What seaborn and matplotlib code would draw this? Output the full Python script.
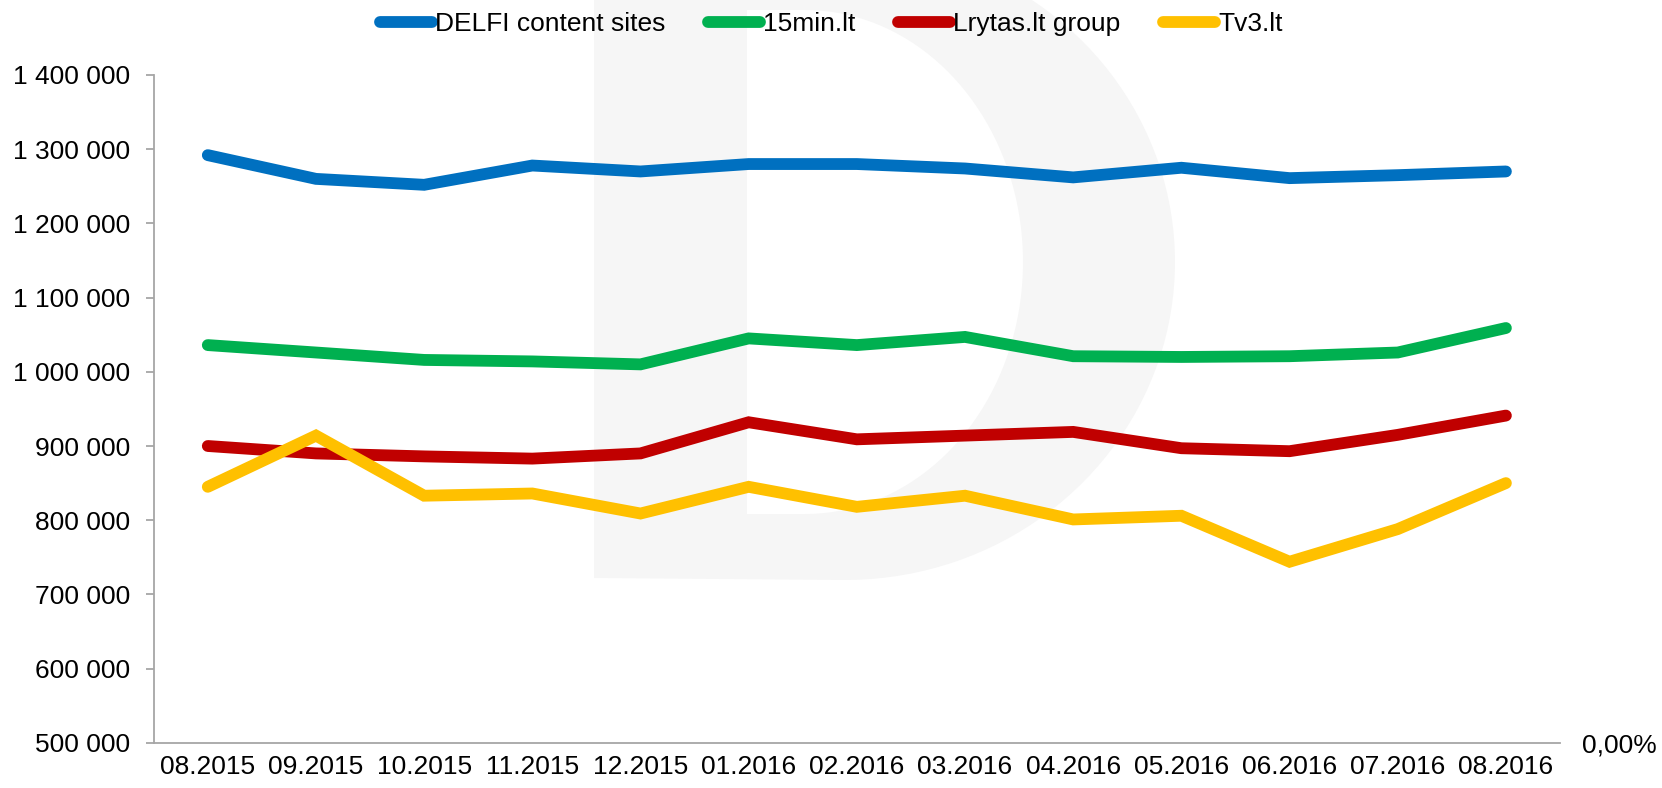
import numpy as np
import pandas as pd
import matplotlib
matplotlib.use("Agg")
import matplotlib.pyplot as plt
import seaborn as sns
from matplotlib.patches import Polygon
from matplotlib.ticker import FuncFormatter, FixedLocator

# data
months = ["08.2015", "09.2015", "10.2015", "11.2015", "12.2015", "01.2016", "02.2016",
          "03.2016", "04.2016", "05.2016", "06.2016", "07.2016", "08.2016"]
sites = ["DELFI content sites", "15min.lt", "Lrytas.lt group", "Tv3.lt"]
delfi = [1292000, 1260000, 1252000, 1278000, 1270000, 1280000, 1280000,
         1274000, 1262000, 1275000, 1261000, 1265000, 1270000]
min15 = [1036000, 1026000, 1016000, 1014000, 1010000, 1045000, 1036000,
         1047000, 1021000, 1020000, 1021000, 1026000, 1059000]
lrytas = [900000, 890000, 886000, 883000, 890000, 932000, 909000,
          914000, 919000, 897000, 893000, 915000, 941000]
tv3 = [845000, 914000, 833000, 836000, 809000, 845000, 818000,
       833000, 801000, 806000, 744000, 788000, 850000]
colors = ["#0070C0", "#00B050", "#C00000", "#FFC000"]

df = pd.DataFrame({
    "month": months * 4,
    "site": np.repeat(sites, len(months)),
    "value": delfi + min15 + lrytas + tv3,
})

sns.set_theme(style="white")
plt.rcParams['font.family'] = ['Liberation Sans', 'DejaVu Sans']
plt.rcParams['text.color'] = 'black'

W, H = 1662, 788
fig = plt.figure(figsize=(W / 100, H / 100), dpi=100)

# faint "D" watermark behind the plot
bg = fig.add_axes([0, 0, 1, 1], zorder=0)
bg.set_xlim(0, W)
bg.set_ylim(H, 0)
bg.axis("off")
t = np.linspace(-np.pi / 2, np.pi / 2, 80)
cy = 262
outer = [(594, 578), (594, -60)] + [(845 + 330 * np.cos(a), cy + 318 * np.sin(a)) for a in t]
inner = [(747, 514), (747, 10)] + [(805 + 218 * np.cos(a), cy + 252 * np.sin(a)) for a in t]
bg.add_patch(Polygon(outer, closed=True, facecolor="#F6F6F6", edgecolor="none"))
bg.add_patch(Polygon(inner, closed=True, facecolor="white", edgecolor="none"))

ax = fig.add_axes([153.7 / W, 45.2 / H, (1560 - 153.7) / W, (742.8 - 75) / H], zorder=1)
ax.patch.set_alpha(0)

sns.lineplot(data=df, x="month", y="value", hue="site", palette=colors,
             sort=False, linewidth=8.5, ax=ax, legend=True)
for ln in ax.lines:
    ln.set_solid_capstyle("round")
    ln.set_solid_joinstyle("miter")

ax.set_xlim(-0.5, len(months) - 0.5)
ax.set_ylim(500000, 1400000)
ax.yaxis.set_major_locator(FixedLocator(np.arange(500000, 1400001, 100000)))
ax.yaxis.set_major_formatter(FuncFormatter(lambda v, p: f"{int(v):,}".replace(",", " ")))
ax.set_xlabel("")
ax.set_ylabel("")

for s in ["top", "right"]:
    ax.spines[s].set_visible(False)
for s in ["left", "bottom"]:
    ax.spines[s].set_color("#A6A6A6")
    ax.spines[s].set_linewidth(1.3)

ax.set_xticks(np.arange(-0.5, len(months), 1), minor=True)
ax.tick_params(axis="x", which="major", length=0, pad=9, labelsize=19, labelcolor="black")
ax.tick_params(axis="x", which="minor", length=6, width=1.3, color="#A6A6A6", direction="out")
ax.tick_params(axis="y", which="major", left=True, length=6, width=1.3, color="#A6A6A6",
               direction="out", pad=11, labelsize=19, labelcolor="black")

# secondary axis with its single label
ax2 = ax.twinx()
ax2.set_ylim(0, 1)
ax2.set_yticks([0])
ax2.set_yticklabels(["0,00%"])
ax2.tick_params(axis="y", length=0, pad=16, labelsize=19, labelcolor="black")
for s in ax2.spines.values():
    s.set_visible(False)

handles, labels = ax.get_legend_handles_labels()
ax.legend_.remove()
for h in handles:
    h.set_solid_capstyle("round")
    h.set_linewidth(8.5)
fig.legend(handles, labels, loc="center", bbox_to_anchor=(0.5, 1 - 24 / H),
           ncol=4, frameon=False, fontsize=19, handlelength=2.0, handletextpad=0.1,
           columnspacing=1.6, labelcolor="black")

fig.savefig("out.png", dpi=100)
